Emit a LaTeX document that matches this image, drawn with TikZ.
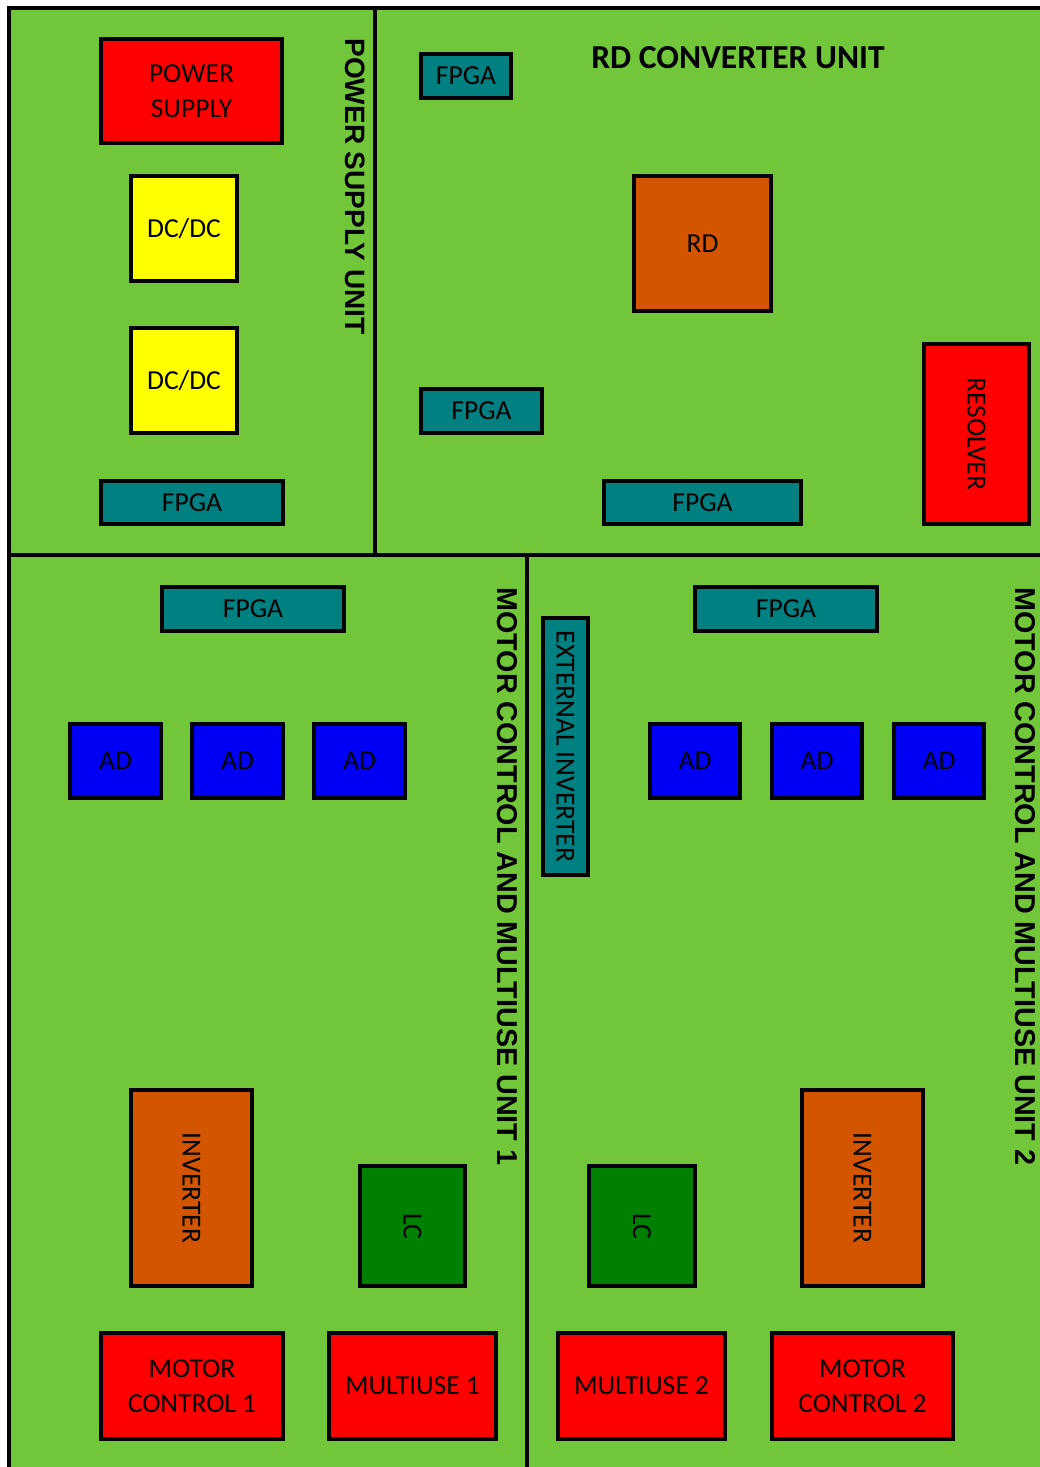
\documentclass[tikz,border=0pt]{standalone}
\usepackage{fontspec}
\setmainfont{Carlito}
\newfontfamily\titlefont{Liberation Sans}
\begin{document}
\begin{tikzpicture}[x=1pt,y=-1pt,
  box/.style={draw=black, line width=4pt, inner sep=0pt, align=center,
    font=\fontsize{27.5}{35}\selectfont, text=black},
  redbox/.style={box, fill=psred},
  yelbox/.style={box, fill=psyellow},
  tealbox/.style={box, fill=psteal},
  bluebox/.style={box, fill=psblue},
  orbox/.style={box, fill=psorange},
  dgbox/.style={box, fill=psdgreen},
  vtitle/.style={rotate=-90, inner sep=0pt, font=\titlefont\bfseries\fontsize{28}{30}\selectfont},
  divider/.style={draw=black, line width=3.5pt}]
\definecolor{psgreen}{HTML}{72C639}
\definecolor{psred}{HTML}{FF0000}
\definecolor{psyellow}{HTML}{FFFF00}
\definecolor{psteal}{HTML}{008080}
\definecolor{psblue}{HTML}{0000F5}
\definecolor{psorange}{HTML}{D45500}
\definecolor{psdgreen}{HTML}{008000}
\useasboundingbox (0,0) rectangle (1040,1467);
\fill[white] (0,0) rectangle (1040,1467);
\draw[fill=psgreen, line width=3.5pt] (9,8) rectangle (1060,1490);
\coordinate (t1) at (375,8);
\coordinate (b1) at (375,555);
\coordinate (l2) at (9,555);
\coordinate (r2) at (1060,555);
\coordinate (t3) at (527,555);
\coordinate (b3) at (527,1490);
\draw[divider] (t1) -- (b1);
\draw[divider] (l2) -- (r2);
\draw[divider] (t3) -- (b3);

% titles
\node[font=\bfseries\fontsize{33.5}{35}\selectfont, inner sep=0pt] (rdtitle) at (738,58) {RD CONVERTER UNIT};
\node[vtitle] (pstitle) at (355,186.5) {POWER SUPPLY UNIT};
\node[vtitle, font=\titlefont\bfseries\fontsize{28.7}{30}\selectfont] (mc1title) at (507,876.5) {MOTOR CONTROL AND MULTIUSE UNIT 1};
\node[vtitle, font=\titlefont\bfseries\fontsize{28.7}{30}\selectfont] (mc2title) at (1025,876.5) {MOTOR CONTROL AND MULTIUSE UNIT 2};

% power supply unit
\node[redbox, minimum width=181, minimum height=104] (ps) at (191.5,91) {POWER\\SUPPLY};
\node[yelbox, minimum width=106, minimum height=105] (dc1) at (184,228.5) {DC/DC};
\node[yelbox, minimum width=106, minimum height=105] (dc2) at (184,380.5) {DC/DC};
\node[tealbox, minimum width=182, minimum height=43] (fpga1) at (192,502.5) {FPGA};

% RD converter unit
\node[tealbox, minimum width=90, minimum height=44] (fpga2) at (466,76) {FPGA};
\node[orbox, minimum width=137, minimum height=135] (rd) at (702.5,243.5) {RD};
\node[tealbox, minimum width=121, minimum height=44] (fpga3) at (481.5,411) {FPGA};
\node[tealbox, minimum width=197, minimum height=43] (fpga4) at (702.5,502.5) {FPGA};
\node[redbox, rotate=-90, minimum width=180, minimum height=105] (res) at (976.5,434) {RESOLVER};

% motor control unit 1
\node[tealbox, minimum width=182, minimum height=44] (fpga5) at (253,609) {FPGA};
\node[bluebox, minimum width=91, minimum height=74] (ad1) at (115.5,761) {AD};
\node[bluebox, minimum width=91, minimum height=74] (ad2) at (237.5,761) {AD};
\node[bluebox, minimum width=91, minimum height=74] (ad3) at (359.5,761) {AD};
\node[orbox, rotate=-90, minimum width=196, minimum height=121] (inv1) at (191.5,1188) {INVERTER};
\node[dgbox, rotate=-90, minimum width=120, minimum height=105] (lc1) at (412.5,1226) {LC};
\node[redbox, minimum width=182, minimum height=106] (mc1) at (192,1386) {MOTOR\\CONTROL 1};
\node[redbox, minimum width=167, minimum height=106] (mu1) at (412.5,1386) {MULTIUSE 1};

% motor control unit 2
\node[tealbox, rotate=-90, minimum width=257, minimum height=45] (extinv) at (565.5,746.5) {EXTERNAL INVERTER};
\node[tealbox, minimum width=182, minimum height=44] (fpga6) at (786,609) {FPGA};
\node[bluebox, minimum width=90, minimum height=74] (ad4) at (695,761) {AD};
\node[bluebox, minimum width=90, minimum height=74] (ad5) at (817,761) {AD};
\node[bluebox, minimum width=90, minimum height=74] (ad6) at (939,761) {AD};
\node[dgbox, rotate=-90, minimum width=120, minimum height=106] (lc2) at (642,1226) {LC};
\node[orbox, rotate=-90, minimum width=196, minimum height=121] (inv2) at (862.5,1188) {INVERTER};
\node[redbox, minimum width=167, minimum height=106] (mu2) at (641.5,1386) {MULTIUSE 2};
\node[redbox, minimum width=181, minimum height=106] (mc2) at (862.5,1386) {MOTOR\\CONTROL 2};
\end{tikzpicture}
\end{document}
